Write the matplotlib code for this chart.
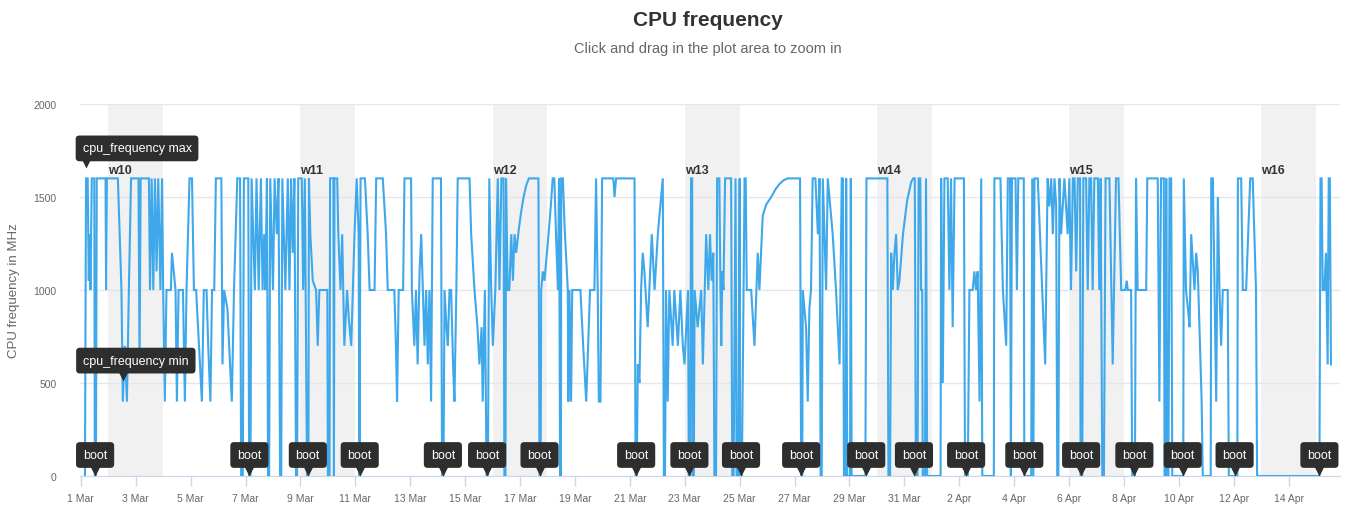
import numpy as np
import matplotlib
matplotlib.use('Agg')
import matplotlib.pyplot as plt
import matplotlib.dates as mdates
from matplotlib.transforms import offset_copy, blended_transform_factory

plt.rcParams['font.family'] = ['Liberation Sans', 'DejaVu Sans']

# Samples: days since 1 Mar 2019 00:00 and CPU frequency in MHz
sample_day = [
    0.15, 0.19, 0.25, 0.29, 0.32, 0.35, 0.40, 0.49, 0.51, 0.55, 0.58, 0.90, 0.92, 0.95,
    1.35, 1.48, 1.53, 1.60, 1.68, 1.75, 1.83, 2.10, 2.14, 2.18, 2.48, 2.52, 2.58, 2.64,
    2.70, 2.76, 2.82, 2.90, 2.96, 3.00, 3.06, 3.12, 3.28, 3.32, 3.45, 3.50, 3.56, 3.72,
    3.79, 3.85, 3.96, 4.05, 4.12, 4.20, 4.41, 4.48, 4.58, 4.64, 4.72, 4.78, 4.86, 4.92,
    5.12, 5.16, 5.22, 5.34, 5.50, 5.58, 5.70, 5.80, 5.84, 5.90, 5.94, 6.10, 6.13, 6.18,
    6.22, 6.34, 6.40, 6.48, 6.52, 6.56, 6.62, 6.68, 6.72, 6.78, 6.82, 6.86, 6.90, 7.00,
    7.06, 7.14, 7.20, 7.26, 7.30, 7.34, 7.45,
    7.54, 7.60, 7.66, 7.72, 7.78, 7.84, 7.88, 7.92, 8.05, 8.10, 8.16, 8.24, 8.29, 8.31,
    8.36, 8.45, 8.57, 8.63, 8.69, 8.98, 9.00, 9.06, 9.08, 9.20, 9.22, 9.24, 9.34, 9.38,
    9.46, 9.52, 9.60, 9.70, 9.76, 9.85, 9.97, 10.05, 10.12, 10.15, 10.19, 10.35, 10.45,
    10.52, 10.70, 10.76, 11.00, 11.06, 11.12, 11.18, 11.42, 11.48, 11.52, 11.58, 11.74,
    11.79, 12.03, 12.06, 12.15, 12.21, 12.27, 12.34, 12.40, 12.48, 12.52, 12.58, 12.64,
    12.70, 12.76, 12.82, 13.12, 13.16, 13.21, 13.25, 13.32, 13.37, 13.43, 13.49, 13.56,
    13.61, 13.68, 13.73, 14.16, 14.22, 14.30, 14.34, 14.45, 14.52, 14.60, 14.64, 14.72,
    14.78, 14.83, 14.88, 14.95, 15.01, 15.10,
    15.19, 15.25, 15.32, 15.40, 15.43, 15.47, 15.49, 15.55, 15.61, 15.68, 15.74, 15.80,
    15.86, 15.95, 16.04, 16.13, 16.22, 16.32, 16.67, 16.71, 16.75, 16.77, 16.83, 16.89,
    17.01, 17.12, 17.19, 17.25, 17.31, 17.38, 17.42, 17.46, 17.49, 17.50, 17.56, 17.62,
    17.74, 17.76, 17.80, 17.86, 17.90, 18.20, 18.30, 18.41, 18.55, 18.71, 18.77, 18.83,
    18.87, 18.93, 18.99, 19.40, 19.44, 19.50, 20.17, 20.21, 20.25, 20.29, 20.35, 20.41,
    20.47, 20.53, 20.65, 20.71, 20.80, 20.90, 21.02, 21.20, 21.24, 21.28, 21.32, 21.38,
    21.44, 21.56, 21.62, 21.75, 21.84, 21.93, 21.99, 22.12, 22.15, 22.20, 22.23, 22.27,
    22.29, 22.33, 22.36, 22.47, 22.60, 22.66, 22.78,
    22.86, 22.92, 22.98, 23.04, 23.08, 23.14, 23.18, 23.26, 23.30, 23.33, 23.37, 23.41,
    23.47, 23.69, 23.73, 23.78, 23.85, 23.89, 23.95, 24.00, 24.02, 24.08, 24.18, 24.22,
    24.26, 24.42, 24.54, 24.66, 24.72, 24.78, 24.84, 24.97, 25.15, 25.30, 25.45, 25.60,
    25.75, 26.20, 26.24, 26.28, 26.30, 26.42, 26.48, 26.54, 26.60, 26.66, 26.76, 26.85,
    26.91, 26.95, 26.99, 27.03, 27.09, 27.15, 27.21, 27.33, 27.39, 27.51, 27.64, 27.72,
    27.76, 27.80, 27.86, 27.88, 27.92, 28.02, 28.05, 28.08, 28.58, 28.62, 29.38, 29.42,
    29.48, 29.52, 29.58, 29.64, 29.70, 29.76, 29.82, 29.95, 30.10, 30.25, 30.32, 30.38,
    30.42, 30.48, 30.52,
    30.58, 30.61, 30.65, 30.67, 30.75, 30.79, 30.83, 31.32, 31.34, 31.40, 31.46, 31.58,
    31.64, 31.70, 31.76, 31.83, 32.17, 32.21, 32.31, 32.37, 32.49, 32.55, 32.61, 32.67,
    32.74, 32.80, 32.84, 33.26, 33.28, 33.50, 33.59, 33.71, 33.77, 33.85, 33.88, 33.92,
    34.05, 34.10, 34.15, 34.35, 34.37, 34.62, 34.66, 34.70, 34.74, 34.86, 35.13, 35.22,
    35.28, 35.35, 35.41, 35.47, 35.53, 35.57, 35.61, 35.65, 35.71, 35.83, 35.95, 36.01,
    36.07, 36.14, 36.20, 36.26, 36.32, 36.40, 36.42, 36.48, 36.52, 36.62, 36.68, 36.74,
    36.80, 36.86, 36.92, 37.05, 37.10, 37.15, 37.21, 37.27, 37.33, 37.47, 37.59, 37.71,
    37.80, 37.90, 38.05, 38.10,
    38.14, 38.26, 38.30, 38.40, 38.44, 38.50, 38.81, 38.85, 39.23, 39.29, 39.35, 39.45,
    39.48, 39.52, 39.54, 39.58, 39.62, 39.66, 39.72, 39.76, 40.16, 40.18, 40.26, 40.33,
    40.39, 40.45, 40.57, 40.63, 40.69, 40.75, 40.83, 40.87, 41.16, 41.18, 41.24, 41.30,
    41.36, 41.42, 41.48, 41.54, 41.60, 41.78, 41.82, 42.13, 42.15, 42.27, 42.33, 42.39,
    42.45, 42.60, 42.69, 42.81, 42.85, 45.12, 45.16, 45.20, 45.24, 45.30, 45.36, 45.42,
    45.46, 45.50, 45.54,
]

freq_mhz = [
    0, 1600, 1600, 1050, 1300, 1000, 1600, 1600, 0, 0, 1600, 1600, 1000, 1600,
    1600, 1000, 400, 700, 400, 1000, 1600, 1600, 600, 1600, 1600, 1000, 1600, 1000,
    1600, 1100, 1600, 1000, 1600, 1000, 400, 1000, 1000, 1200, 1000, 400, 1000, 1000,
    400, 1000, 1600, 1600, 1000, 1000, 400, 1000, 1000, 700, 400, 1000, 1000, 1600,
    1600, 600, 1000, 900, 400, 1000, 1600, 1600, 0, 0, 1600, 1600, 0, 0,
    1600, 1000, 1600, 1000, 1300, 1600, 1000, 1300, 1000, 1600, 0, 0, 1600, 1000,
    1600, 1300, 1600, 0, 0, 1600, 1000,
    1600, 1000, 1600, 1200, 1600, 0, 0, 1600, 1600, 1000, 1600, 0, 0, 1600,
    1300, 1050, 1000, 700, 1000, 1000, 0, 0, 1600, 1600, 0, 1600, 1600, 1300,
    1000, 1300, 700, 1000, 850, 700, 1300, 1600, 1300, 0, 1600, 1600, 1300,
    1000, 1000, 1600, 1600, 1450, 1300, 1000, 1000, 700, 400, 1000, 1000,
    1600, 1600, 1000, 700, 1000, 600, 1100, 1300, 900, 700, 1000, 600,
    1000, 400, 1600, 1600, 0, 0, 1000, 800, 700, 1000, 1000, 600,
    400, 1000, 1600, 1600, 1300, 1100, 1000, 800, 600, 800, 400, 1000,
    0, 0, 1600, 1000, 700, 1000,
    1600, 1000, 1600, 1600, 0, 0, 1600, 1000, 1000, 1300, 1050, 1300,
    1200, 1320, 1420, 1500, 1560, 1600, 1600, 0, 0, 1000, 1100, 1050,
    1250, 1450, 1600, 1600, 1300, 1000, 1600, 0, 0, 1600, 1600, 1350,
    1000, 400, 1000, 400, 1000, 1000, 700, 400, 1000, 1000, 1600, 1000,
    400, 400, 1600, 1600, 1500, 1600, 1600, 0, 0, 600, 500, 1000,
    1200, 1100, 800, 1000, 1300, 1000, 1300, 1600, 0, 0, 1000, 400,
    1000, 700, 1000, 700, 1000, 700, 600, 1000, 0, 0, 1600, 1600,
    0, 0, 1000, 800, 1000, 600, 1300,
    1000, 1300, 1050, 1200, 0, 0, 1600, 1600, 1000, 700, 1100, 1000,
    1600, 1600, 0, 0, 1600, 0, 0, 1600, 0, 0, 1600, 1600,
    1000, 1000, 700, 1200, 1000, 1200, 1400, 1460, 1500, 1540, 1570, 1590,
    1600, 1600, 0, 0, 1000, 800, 400, 900, 1000, 1600, 1600, 1300,
    1600, 0, 0, 1600, 1300, 1000, 1600, 1400, 1300, 1000, 600, 1600,
    1600, 0, 0, 1600, 0, 0, 1600, 0, 0, 1600, 1600, 0,
    0, 1200, 1000, 1200, 1300, 1000, 1050, 1300, 1480, 1580, 1600, 1600,
    0, 0, 1600,
    1600, 1000, 1000, 0, 0, 1600, 0, 0, 1600, 500, 1600, 1600,
    1000, 1600, 800, 1600, 1600, 0, 0, 1000, 1000, 1100, 1000, 1100,
    400, 1600, 0, 0, 1600, 1600, 1000, 700, 1600, 1600, 0, 1600,
    1600, 1000, 1600, 1600, 0, 0, 1600, 0, 1600, 1600, 600, 1600,
    1450, 1600, 1300, 1600, 1450, 0, 0, 1600, 1300, 1600, 1300, 1600,
    1000, 1600, 1600, 1100, 1600, 1600, 0, 0, 1600, 1600, 1000, 1600,
    1600, 1000, 1600, 1600, 1000, 1600, 0, 0, 1600, 1600, 600, 1600,
    1600, 1000, 1000, 1050,
    1000, 1000, 0, 0, 1600, 1000, 1000, 1600, 1600, 400, 1600, 1600,
    0, 0, 1600, 0, 0, 1600, 1600, 0, 0, 1600, 1000, 900,
    800, 1300, 1000, 1200, 1100, 800, 400, 0, 0, 1600, 1600, 1000,
    400, 1500, 1000, 700, 1000, 1000, 0, 0, 1600, 1600, 1000, 1000,
    1000, 1600, 1600, 1000, 0, 0, 1600, 1600, 1000, 1000, 1200, 600,
    1600, 1600, 600,
]

# Boot events (days since 1 Mar 2019)
boot_day = [0.52, 6.14, 8.27, 10.16, 13.19, 14.80, 16.71, 20.23, 22.17, 24.05,
            26.24, 28.61, 30.35, 32.25, 34.37, 36.44, 38.38, 40.14, 42.03, 45.12]

# Weekend bands with ISO week labels
weekend_start_day = [1, 8, 15, 22, 29, 36, 43]
week_labels = ['w10', 'w11', 'w12', 'w13', 'w14', 'w15', 'w16']

y_ticks = [0, 500, 1000, 1500, 2000]

LINE = '#3ea8ea'
BOX = '#2e2e2e'
GRID = '#e6e6e6'
AXIS = '#ccd6eb'
LABEL = '#666666'

t0 = mdates.date2num(np.datetime64('2019-03-01T00:00'))
x = t0 + np.array(sample_day)
y = np.array(freq_mhz)

fig = plt.figure(figsize=(13.51, 5.10), dpi=100)
ax = fig.add_axes([80 / 1351, 33 / 510, 1260 / 1351, 372 / 510])

# weekend bands + week labels
band_tr = blended_transform_factory(ax.transData, ax.transAxes)
for start, lab in zip(weekend_start_day, week_labels):
    ax.axvspan(t0 + start, t0 + start + 2, color='#f1f1f1', lw=0, zorder=0)
    ax.text(t0 + start, 0.822, lab, transform=band_tr, ha='left', va='center',
            fontsize=9, fontweight='bold', color='#333333', zorder=1)

ax.plot(x, y, color=LINE, lw=1.5, zorder=3, solid_joinstyle='miter')

ax.set_xlim(t0 - 0.03, t0 + 45.87)
ax.set_ylim(0, 2000)
ax.set_yticks(y_ticks)
ax.yaxis.grid(True, color=GRID, lw=1, zorder=0)
ax.set_axisbelow(True)

ax.set_xticks(t0 + np.arange(0, 46, 2))
ax.xaxis.set_major_formatter(mdates.DateFormatter('%-d %b'))
ax.tick_params(axis='x', colors=AXIS, length=7, width=1, labelcolor=LABEL,
               labelsize=7.5, pad=5)
ax.tick_params(axis='y', length=0, labelcolor=LABEL, labelsize=7.5, pad=17)

for side in ['top', 'right', 'left']:
    ax.spines[side].set_visible(False)
ax.spines['bottom'].set_color(AXIS)
ax.spines['bottom'].set_zorder(2)


def callout(xv, yv, text, box_dx, box_dy, tip_dy):
    """Dark label box with a small pointer towards (xv, yv); offsets in pixels."""
    ax.annotate(text, xy=(xv, yv), xytext=(box_dx, box_dy), textcoords='offset pixels',
                ha='center', va='center', fontsize=9, color='white', zorder=7,
                annotation_clip=False,
                bbox=dict(boxstyle='round,pad=0.55,rounding_size=0.3', fc=BOX, ec='none'))
    tr = offset_copy(ax.transData, fig=fig, x=0, y=tip_dy + 5, units='dots')
    ax.plot([xv], [yv], marker='v', ms=7, color=BOX, mec='none', transform=tr,
            zorder=7, clip_on=False)


imax = int(np.argmax(y))
nz = np.where(y > 0)[0]
imin = int(nz[np.argmin(y[nz])])
callout(x[imax], y[imax], 'cpu_frequency max', 51, 30, 10)
callout(x[imin], y[imin], 'cpu_frequency min', 13, 41, 21)
for d in boot_day:
    callout(t0 + d, 0, 'boot', 0, 21, 0)

fig.text(708 / 1351, 1 - 21 / 510, 'CPU frequency', ha='center', va='center',
         fontsize=15, fontweight='bold', color='#333333')
fig.text(708 / 1351, 1 - 49 / 510, 'Click and drag in the plot area to zoom in',
         ha='center', va='center', fontsize=10.5, color=LABEL)
fig.text(14 / 1351, 1 - 291 / 510, 'CPU frequency in MHz', rotation=90,
         ha='center', va='center', fontsize=9.5, color=LABEL)

fig.savefig('out.png', dpi=100, facecolor='white')
